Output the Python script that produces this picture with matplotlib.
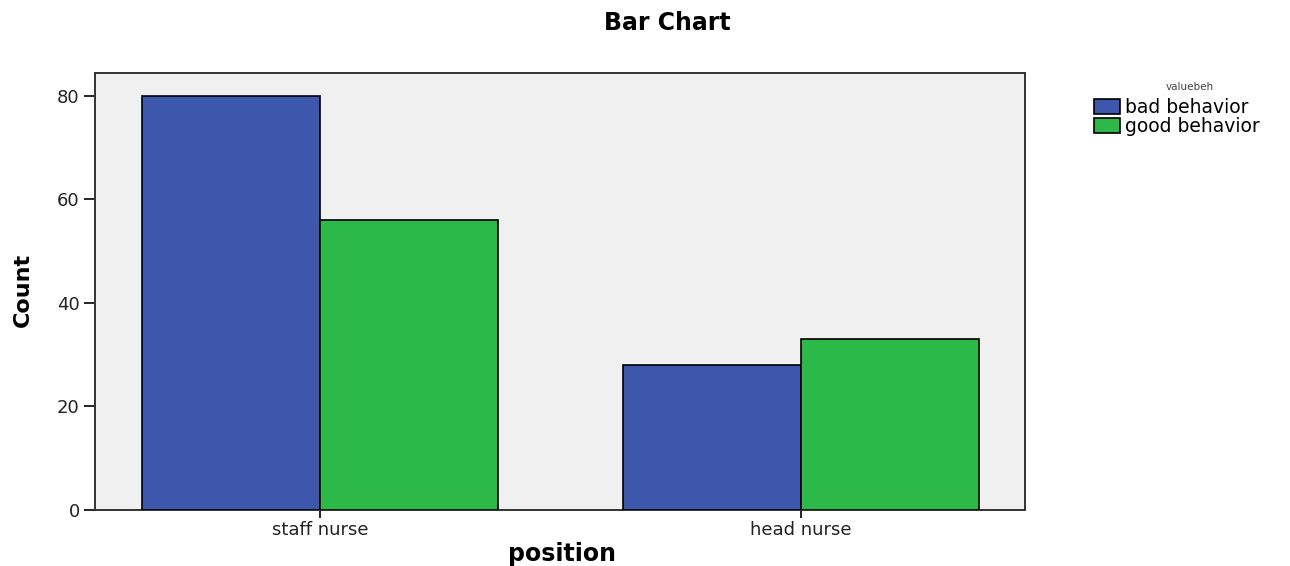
import matplotlib
matplotlib.use("Agg")
import matplotlib.pyplot as plt
import numpy as np
from matplotlib.patches import Patch

categories = ["staff nurse", "head nurse"]
series_names = ["bad behavior", "good behavior"]
bad_behavior = [80, 28]
good_behavior = [56, 33]
yticks = [0, 20, 40, 60, 80]

colors = ["#3D57AC", "#2DB84A"]

fig = plt.figure(figsize=(12.9, 5.66), dpi=100)
ax = fig.add_axes([0.0736, 0.0989, 0.7210, 0.7722])
ax.set_facecolor("#F0F0F0")

x = np.arange(len(categories))
w = 0.37
ax.bar(x - w/2, bad_behavior, w, color=colors[0], edgecolor="black", linewidth=1.2, zorder=3)
ax.bar(x + w/2, good_behavior, w, color=colors[1], edgecolor="black", linewidth=1.2, zorder=3)

ax.set_xlim(-0.468, 1.466)
ax.set_ylim(0, 84.4)
ax.set_yticks(yticks)
ax.set_xticks(x)
ax.set_xticklabels(categories, fontsize=13, color="#222222")
ax.tick_params(axis="y", labelsize=13, labelcolor="#222222", length=8, width=1.2, direction="out", pad=3)
ax.tick_params(axis="x", length=6, width=1.2, direction="out", pad=2)
for s in ax.spines.values():
    s.set_linewidth(1.4)
    s.set_color("#333333")

fig.text(0.517, 0.96, "Bar Chart", ha="center", va="center", fontsize=17, fontweight="bold")
fig.text(0.436, 0.0, "position", ha="center", va="bottom", fontsize=17, fontweight="bold")
fig.text(0.018, 0.487, "Count", ha="center", va="center", rotation=90, fontsize=16, fontweight="bold")

fig.text(1190/1290, 1 - 87/566, "valuebeh", ha="center", va="center", fontsize=7.5, color="#444444")
handles = [Patch(facecolor=colors[i], edgecolor="black", linewidth=1.2) for i in range(2)]
leg = fig.legend(handles, series_names, loc="upper left", bbox_to_anchor=(0.848, 1 - 98/566),
                 frameon=False, fontsize=13.5,
                 handlelength=1.4, handleheight=0.9, handletextpad=0.25, labelspacing=0.0,
                 borderaxespad=0, borderpad=0)

fig.savefig("out.png", dpi=100)
